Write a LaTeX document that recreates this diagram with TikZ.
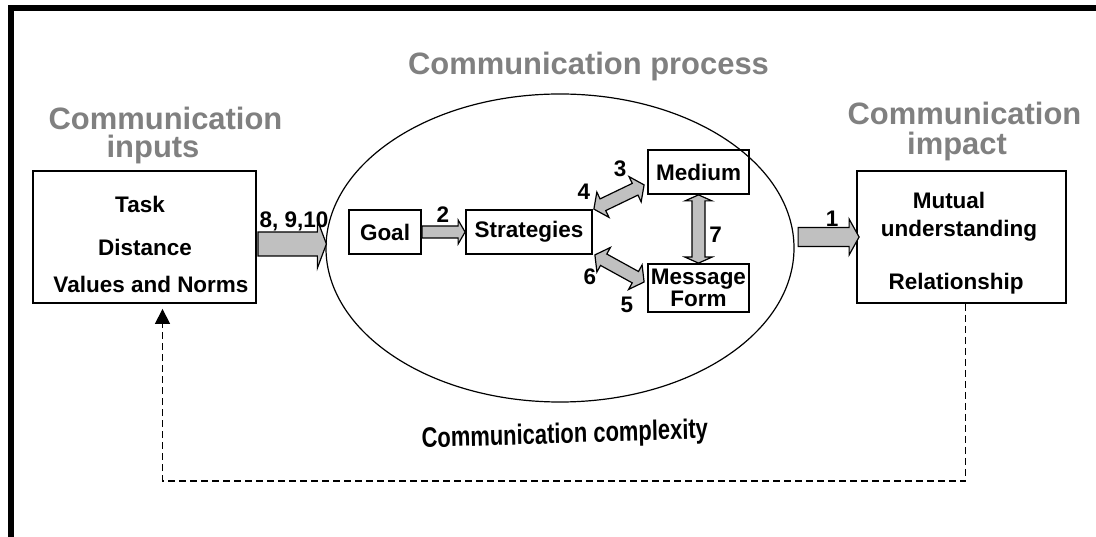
\documentclass[tikz,border=0pt]{standalone}
\usepackage{fontspec}
\setmainfont{Liberation Sans}
\usetikzlibrary{calc,shapes.geometric,arrows.meta}
\definecolor{titlegray}{RGB}{128,128,128}
\definecolor{arrowgray}{RGB}{192,192,192}
\newcommand{\hdfont}{\fontsize{22}{24}\selectfont\bfseries}
\newcommand{\bxfont}{\fontsize{16}{18}\selectfont\bfseries}
\tikzset{
  box/.style={draw, line width=0.45mm, inner sep=2pt, font=\bxfont},
  heading/.style={text=titlegray, font=\hdfont, anchor=base, inner sep=0pt},
  boxtext/.style={font=\bxfont, anchor=base, inner sep=0pt},
  num/.style={font=\bxfont, anchor=base, inner sep=0pt},
  arrowbody/.style={fill=arrowgray, draw=black, line width=0.3mm, line join=miter},
  feedback/.style={dash pattern=on 1.75mm off 1mm, line width=0.3mm},
}
\newcommand{\blockarrow}[5]{%
  \coordinate (ba-h) at ($(#2)!#5!(#1)$);
  \filldraw[arrowbody] ($(#1)!#3!90:(#2)$) -- ($(ba-h)!#3!-90:(#1)$) -- ($(ba-h)!#4!-90:(#1)$) -- (#2)
    -- ($(ba-h)!#4!90:(#1)$) -- ($(ba-h)!#3!90:(#1)$) -- ($(#1)!#3!-90:(#2)$) -- cycle;
}
\newcommand{\dblarrow}[5]{%
  \coordinate (da-h1) at ($(#1)!#5!(#2)$);
  \coordinate (da-h2) at ($(#2)!#5!(#1)$);
  \filldraw[arrowbody] (#1) -- ($(da-h1)!#4!90:(#2)$) -- ($(da-h1)!#3!90:(#2)$) -- ($(da-h2)!#3!-90:(#1)$)
    -- ($(da-h2)!#4!-90:(#1)$) -- (#2) -- ($(da-h2)!#4!90:(#1)$) -- ($(da-h2)!#3!90:(#1)$)
    -- ($(da-h1)!#3!-90:(#2)$) -- ($(da-h1)!#4!-90:(#2)$) -- cycle;
}
\begin{document}
\begin{tikzpicture}[x=0.25mm,y=-0.25mm]
  \useasboundingbox (0,0) rectangle (1096,537);
  \draw[line width=1.5mm] (11,537) -- (11,8) -- (1096,8);

  \node[heading] (tin1) at (165.5,130) {Communication};
  \node[heading] (tin2) at (153,158) {inputs};
  \node[heading] (tproc) at (588.5,75) {Communication process};
  \node[heading] (timp1) at (964.5,125) {Communication};
  \node[heading] (timp2) at (957,155) {impact};

  \node[box, minimum width=55.75mm, minimum height=33mm] (inputs) at (144.5,237) {};
  \node[boxtext] (task) at (140,213) {Task};
  \node[boxtext] (dist) at (145,256) {Distance};
  \node[boxtext] (norms) at (151,293) {Values and Norms};

  \node[draw, ellipse, line width=0.3mm, inner sep=0pt, minimum width=117mm, minimum height=77mm] (proc) at (560,248) {};
  \node[box, minimum width=18mm, minimum height=11mm] (goal) at (385,232) {Goal};
  \node[box, minimum width=31.5mm, minimum height=11mm] (strat) at (529,232) {Strategies};
  \node[box, minimum width=25.25mm, minimum height=11mm] (medium) at (698.5,172) {Medium};
  \node[box, minimum width=25.25mm, minimum height=12mm, align=center,
        font=\fontsize{16}{13.5}\selectfont\bfseries] (msgform) at (698.5,288) {Message\\Form};

  \node[box, minimum width=52.25mm, minimum height=33mm] (impact) at (961.5,237) {};
  \node[boxtext] (mutual) at (949,209) {Mutual};
  \node[boxtext] (underst) at (959,237) {understanding};
  \node[boxtext] (relat) at (956,290) {Relationship};

  \coordinate (a8s) at ($(inputs.east)+(1,7)$);
  \coordinate (a8t) at ($(proc.west)+(1,-4)$);
  \blockarrow{a8s}{a8t}{3mm}{6mm}{2.25mm}
  \node[num] (n8) at (294,228) {8, 9,10};

  \blockarrow{goal.east}{strat.west}{1.5mm}{3mm}{1.75mm}
  \node[num] (n2) at (443,223) {2};

  \coordinate (a34s) at ($(strat.north east)+(1,0)$);
  \coordinate (a34t) at ($(medium.south west)+(-3,-10)$);
  \dblarrow{a34s}{a34t}{1.625mm}{3.5mm}{2.5mm}
  \node[num] (n3) at (620,177) {3};
  \node[num] (n4) at (584,200) {4};

  \coordinate (a56s) at ($(strat.south east)+(2,0)$);
  \coordinate (a56t) at ($(msgform.west)+(-3,-6)$);
  \dblarrow{a56s}{a56t}{1.625mm}{3.5mm}{2.5mm}
  \node[num] (n6) at (590,285) {6};
  \node[num] (n5) at (627,313) {5};

  \dblarrow{medium.south}{msgform.north}{1.625mm}{3.375mm}{1.5mm}
  \node[num] (n7) at (715.5,243) {7};

  \coordinate (a1s) at ($(impact.west)+(-58,0)$);
  \coordinate (a1t) at ($(impact.west)+(3,0)$);
  \blockarrow{a1s}{a1t}{2.375mm}{4.5mm}{2.5mm}
  \node[num] (n1) at (832,227) {1};

  \node[font=\fontsize{20}{22}\selectfont\bfseries, anchor=base, xscale=0.78, rotate=1.5] (cplx) at (565,443) {Communication complexity};

  \coordinate (lowline) at (560,481);
  \draw[feedback, -{Triangle[length=3.75mm, width=3.75mm]}] ($(impact.south)+(4,0)$) |- (lowline) -| ($(inputs.south)+(18,5)$);
\end{tikzpicture}
\end{document}
